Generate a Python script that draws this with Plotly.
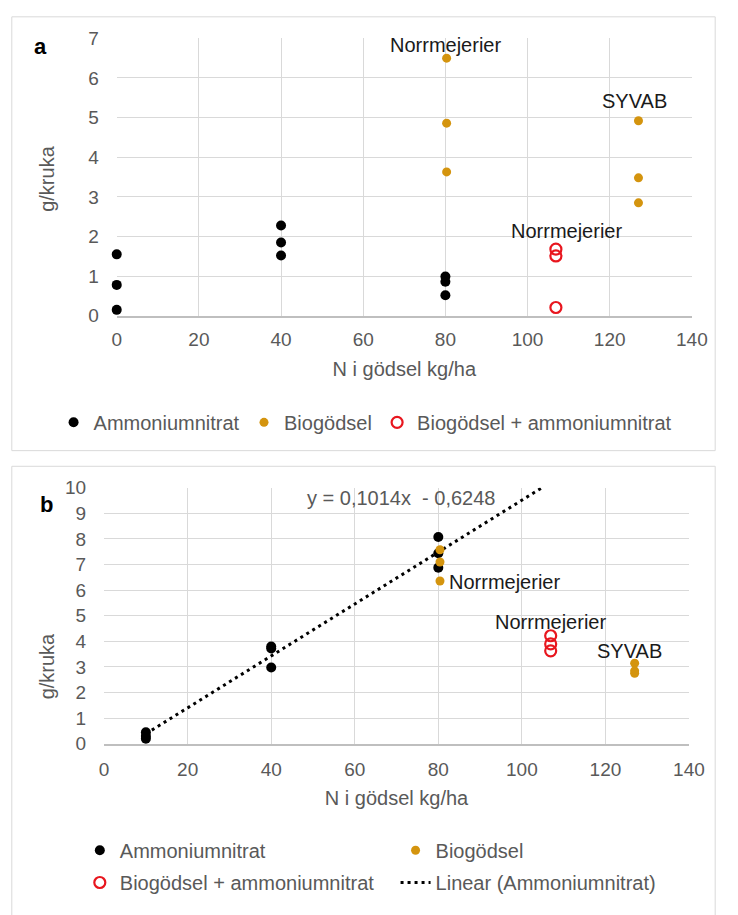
import plotly.graph_objects as go

# ---------------- data: panel a ----------------
A_AN_X = [0, 0, 0, 40, 40, 40, 80, 80, 80]
A_AN_Y = [1.55, 0.78, 0.15, 2.28, 1.85, 1.52, 0.99, 0.86, 0.52]
A_BIO_X = [80.3, 80.3, 80.3, 127, 127, 127]
A_BIO_Y = [6.50, 4.86, 3.63, 4.92, 3.48, 2.85]
A_MIX_X = [106.9, 106.9, 106.9]
A_MIX_Y = [1.68, 1.51, 0.21]

# ---------------- data: panel b ----------------
B_AN_X = [10, 10, 10, 40, 40, 40, 80, 80, 80]
B_AN_Y = [0.45, 0.30, 0.20, 3.80, 3.72, 2.98, 8.08, 7.44, 6.88]
B_BIO_X = [80.4, 80.4, 80.4, 127, 127, 127]
B_BIO_Y = [7.58, 7.10, 6.36, 3.15, 2.85, 2.75]
B_MIX_X = [106.9, 106.9, 106.9]
B_MIX_Y = [4.22, 3.90, 3.63]

# trendline as printed on the chart: y = 0,1014x - 0,6248
SLOPE = 0.1014
INTERCEPT = -0.6248
TREND_X_START = 10
B_Y_MAX = 10
trend_x = [TREND_X_START, (B_Y_MAX - INTERCEPT) / SLOPE]
trend_y = [SLOPE * v + INTERCEPT for v in trend_x]

NAMES = ["Ammoniumnitrat", "Biogödsel", "Biogödsel + ammoniumnitrat",
         "Linear (Ammoniumnitrat)"]

W, H = 738, 915
FONT = "Liberation Sans, Arial, sans-serif"
GRAY = "#595959"
GOLD = "#D4940E"
RED = "#E8161E"

def px(x):
    return x / W

def py(y):
    return 1 - y / H

fig = go.Figure()

def dots(x, y, name, color, xa, ya, leg, size=10):
    fig.add_trace(go.Scatter(x=x, y=y, mode="markers", name=name,
                             xaxis=xa, yaxis=ya, legend=leg, cliponaxis=False,
                             marker=dict(color=color, size=size)))

def rings(x, y, name, xa, ya, leg):
    fig.add_trace(go.Scatter(x=x, y=y, mode="markers", name=name,
                             xaxis=xa, yaxis=ya, legend=leg, cliponaxis=False,
                             marker=dict(symbol="circle-open", color=RED, size=11,
                                         line=dict(width=2.2, color=RED))))

# panel a
dots(A_AN_X, A_AN_Y, NAMES[0], "black", "x", "y", "legend", 10)
dots(A_BIO_X, A_BIO_Y, NAMES[1], GOLD, "x", "y", "legend2", 9)
rings(A_MIX_X, A_MIX_Y, NAMES[2], "x", "y", "legend3")
# panel b
fig.add_trace(go.Scatter(x=trend_x, y=trend_y, mode="lines", name=NAMES[3],
                         xaxis="x2", yaxis="y2", legend="legend7",
                         line=dict(color="black", width=3, dash="3px,4px")))
dots(B_AN_X, B_AN_Y, NAMES[0], "black", "x2", "y2", "legend4", 10)
dots(B_BIO_X, B_BIO_Y, NAMES[1], GOLD, "x2", "y2", "legend5", 9)
rings(B_MIX_X, B_MIX_Y, NAMES[2], "x2", "y2", "legend6")

tickfont = dict(family=FONT, size=19, color=GRAY)
titlefont = dict(family=FONT, size=20, color=GRAY)

def xax(domain, anchor, standoff, tstandoff):
    return dict(domain=domain, anchor=anchor, range=[0, 140], tick0=0, dtick=20,
                showgrid=True, gridcolor="#D9D9D9", gridwidth=1,
                showline=True, linecolor="#BFBFBF", linewidth=1.5,
                zeroline=False, ticks="", tickfont=tickfont,
                ticklabelstandoff=standoff,
                title=dict(text="N i gödsel kg/ha", font=titlefont,
                           standoff=tstandoff),
                fixedrange=True)

def yax(domain, anchor, top, standoff):
    return dict(domain=domain, anchor=anchor, range=[0, top], tick0=0, dtick=1,
                showgrid=True, gridcolor="#D9D9D9", gridwidth=1,
                showline=False, zeroline=False, ticks="", tickfont=tickfont,
                ticklabelstandoff=standoff, fixedrange=True)

def leg(xpx, ypx):
    return dict(x=px(xpx), y=py(ypx), xanchor="left", yanchor="middle",
                bgcolor="rgba(0,0,0,0)", borderwidth=0,
                font=dict(family=FONT, size=20, color=GRAY),
                itemwidth=30, tracegroupgap=0)

ann_font = dict(family=FONT, size=20, color="#1A1A1A")

def paper_text(text, xp, yp, font, angle=0):
    return dict(text=text, x=px(xp), y=py(yp), xref="paper", yref="paper",
                xanchor="center", yanchor="middle", textangle=angle,
                showarrow=False, font=font)

annotations = [
    paper_text("<b>a</b>", 37, 37, dict(family=FONT, size=22, color="black")),
    paper_text("<b>b</b>", 43, 506, dict(family=FONT, size=22, color="black")),
    paper_text("g/kruka", 43, 173, titlefont, -90),
    paper_text("g/kruka", 43, 672, titlefont, -90),
    dict(text="Norrmejerier", x=80, y=6.83, xref="x", yref="y",
         showarrow=False, font=ann_font),
    dict(text="SYVAB", x=126, y=5.42, xref="x", yref="y",
         showarrow=False, font=ann_font),
    dict(text="Norrmejerier", x=109.5, y=2.15, xref="x", yref="y",
         showarrow=False, font=ann_font),
    dict(text="Norrmejerier", x=82.2, y=6.33, xref="x2", yref="y2",
         xanchor="left", showarrow=False, font=ann_font),
    dict(text="Norrmejerier", x=106.9, y=4.75, xref="x2", yref="y2",
         showarrow=False, font=ann_font),
    dict(text="SYVAB", x=125.7, y=3.63, xref="x2", yref="y2",
         showarrow=False, font=ann_font),
    dict(text="y = 0,1014x  - 0,6248", x=71, y=9.6, xref="x2", yref="y2",
         showarrow=False, font=dict(family=FONT, size=20, color=GRAY)),
]

shapes = [
    dict(type="rect", xref="paper", yref="paper", x0=px(7), x1=px(731),
         y0=py(451), y1=py(7), line=dict(color="#D9D9D9", width=1),
         fillcolor="rgba(0,0,0,0)", layer="below"),
    dict(type="rect", xref="paper", yref="paper", x0=px(7), x1=px(731),
         y0=py(930), y1=py(467), line=dict(color="#D9D9D9", width=1),
         fillcolor="rgba(0,0,0,0)", layer="below"),
]

fig.update_layout(
    width=W, height=H, margin=dict(l=0, r=0, t=0, b=0),
    paper_bgcolor="white", plot_bgcolor="white",
    font=dict(family=FONT, color=GRAY),
    xaxis=xax([px(115), px(707)], "y", 6, 13),
    yaxis=yax([py(313), py(29)], "x", 7, 17),
    xaxis2=xax([px(102), px(704)], "y2", 8, 12),
    yaxis2=yax([py(751), py(489)], "x2", 10, 17),
    legend=leg(50, 422),
    legend2=leg(246, 422),
    legend3=leg(383, 422),
    legend4=leg(77, 860),
    legend5=leg(402, 860),
    legend6=leg(77, 893),
    legend7=leg(402, 893),
    annotations=annotations,
    shapes=shapes,
    showlegend=True,
)

fig.write_html("out.html")
